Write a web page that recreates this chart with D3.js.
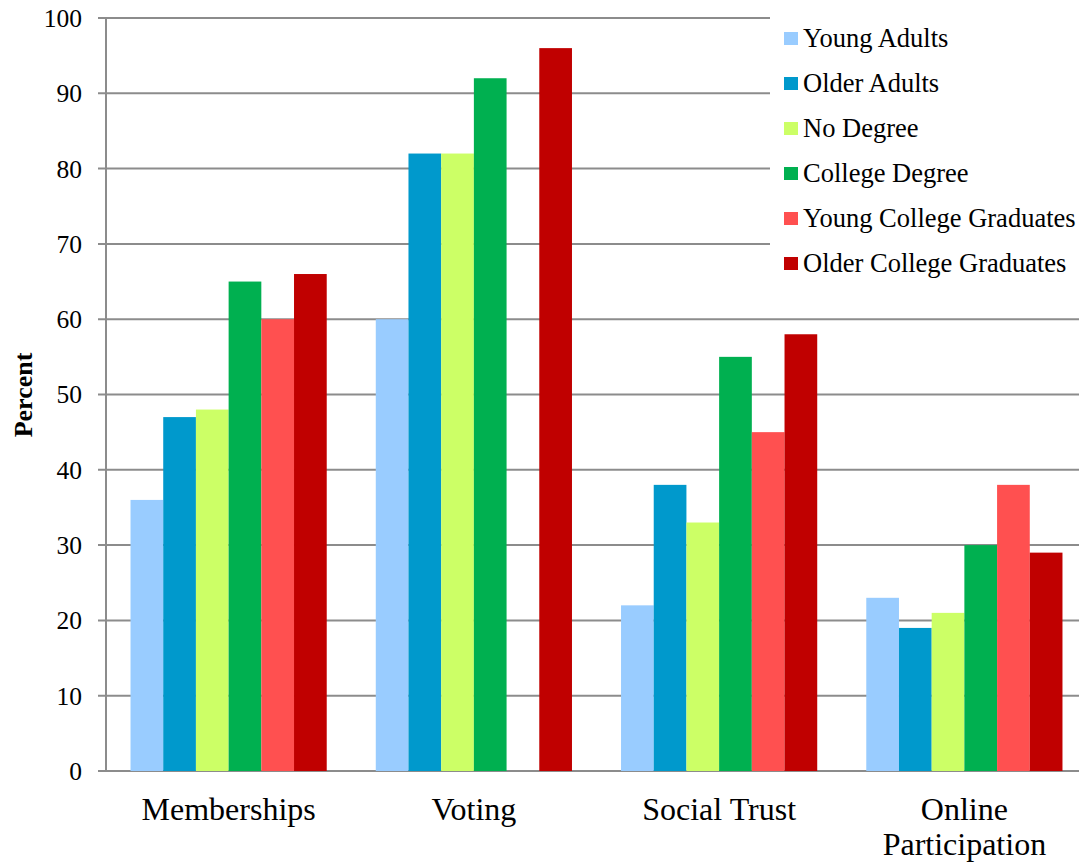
<!DOCTYPE html>
<html>
<head>
<meta charset="utf-8">
<script src="https://cdn.jsdelivr.net/npm/d3@7"></script>
<style>
  body { margin: 0; background: white; }
  svg text { font-family: "Liberation Serif", "Times New Roman", serif; }
</style>
</head>
<body>
<div id="chart"></div>
<script>
// data
var categories = [["Memberships"], ["Voting"], ["Social Trust"], ["Online", "Participation"]];
var seriesNames = ["Young Adults", "Older Adults", "No Degree", "College Degree", "Young College Graduates", "Older College Graduates"];
var seriesColors = ["#99ccff", "#0099cc", "#ccff66", "#00b050", "#ff5050", "#c00000"];
var youngAdults = [36, 60, 22, 23];
var olderAdults = [47, 82, 38, 19];
var noDegree = [48, 82, 33, 21];
var collegeDegree = [65, 92, 55, 30];
var youngGrads = [60, null, 45, 38];
var olderGrads = [66, 96, 58, 29];
var yTicks = [0, 10, 20, 30, 40, 50, 60, 70, 80, 90, 100];

var seriesValues = [youngAdults, olderAdults, noDegree, collegeDegree, youngGrads, olderGrads];
var FONT = "'Liberation Serif', 'Times New Roman', serif";

function main() {
    var W = 1079, H = 865;
    var margin = {top: 18, right: -8, bottom: 94, left: 106},
        width = W - margin.left - margin.right,
        height = H - margin.top - margin.bottom;

    var svg = d3.select("#chart").append("svg")
        .attr("width", W)
        .attr("height", H)
        .append("g")
        .attr("transform", "translate(" + margin.left + "," + margin.top + ")");

    var x0 = d3.scaleBand().domain(d3.range(categories.length)).range([0, width])
        .paddingInner(0.2).paddingOuter(0.1);
    var x1 = d3.scaleBand().domain(d3.range(seriesNames.length)).range([0, x0.bandwidth()]);
    var yScale = d3.scaleLinear().domain([0, 100]).range([height, 0]);

    // gridlines
    svg.append("g")
        .selectAll("line")
        .data(yTicks)
        .join("line")
        .attr("x1", -8)
        .attr("x2", width)
        .attr("y1", d => yScale(d))
        .attr("y2", d => yScale(d))
        .attr("stroke", "#8c8c8c")
        .attr("stroke-width", 2);

    // bars
    var rows = [];
    categories.forEach(function(c, i) {
        seriesValues.forEach(function(s, j) {
            if (s[i] != null) rows.push({cat: i, ser: j, value: s[i]});
        });
    });

    svg.append("g")
        .selectAll("rect")
        .data(rows)
        .join("rect")
        .attr("x", d => x0(d.cat) + x1(d.ser))
        .attr("y", d => yScale(d.value))
        .attr("width", x1.bandwidth())
        .attr("height", d => yScale(0) - yScale(d.value))
        .attr("fill", d => seriesColors[d.ser]);

    // y axis
    svg.append("line")
        .attr("x1", 0).attr("x2", 0)
        .attr("y1", yScale(100)).attr("y2", yScale(0))
        .attr("stroke", "#8c8c8c")
        .attr("stroke-width", 2);

    svg.append("g")
        .selectAll("text")
        .data(yTicks)
        .join("text")
        .attr("x", -24)
        .attr("y", d => yScale(d))
        .attr("dy", "0.35em")
        .attr("text-anchor", "end")
        .style("font-family", FONT)
        .style("font-size", "25.5px")
        .attr("fill", "#000")
        .text(d => d);

    // category labels
    var catLabels = svg.append("g")
        .selectAll("text")
        .data(categories)
        .join("text")
        .attr("text-anchor", "middle")
        .style("font-family", FONT)
        .style("font-size", "32px")
        .attr("fill", "#000")
        .attr("transform", (d, i) => "translate(" + (x0(i) + x0.bandwidth() / 2) + "," + (height + 49) + ")");
    catLabels.selectAll("tspan")
        .data(d => d)
        .join("tspan")
        .attr("x", 0)
        .attr("dy", (d, i) => i == 0 ? 0 : 35)
        .text(d => d);

    svg.append("text")
        .attr("text-anchor", "middle")
        .style("font-family", FONT)
        .style("font-size", "26px")
        .style("font-weight", "bold")
        .attr("transform", "translate(" + (-74) + "," + (395 - margin.top) + ") rotate(-90)")
        .text("Percent");

    // legend
    var legend = d3.select("svg").append("g")
        .attr("transform", "translate(770,14)");
    legend.append("rect")
        .attr("width", 320)
        .attr("height", 272)
        .attr("fill", "white");
    var item = legend.selectAll("g.item")
        .data(seriesNames)
        .join("g")
        .attr("class", "item")
        .attr("transform", (d, i) => "translate(0," + (24 + i * 45) + ")");
    item.append("rect")
        .attr("x", 14)
        .attr("y", -6)
        .attr("width", 14)
        .attr("height", 13)
        .attr("fill", (d, i) => seriesColors[i]);
    item.append("text")
        .attr("x", 33)
        .attr("dy", "0.35em")
        .style("font-family", FONT)
        .style("font-size", "26.5px")
        .attr("fill", "#000")
        .text(d => d);
}
main();
</script>
</body>
</html>
